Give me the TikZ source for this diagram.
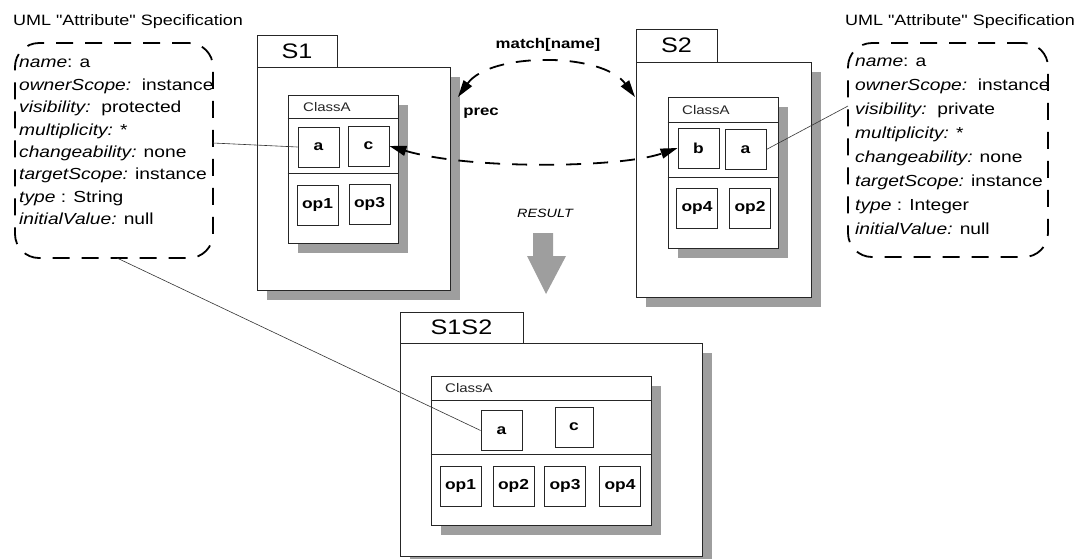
\documentclass[tikz,border=0pt]{standalone}
\usepackage{fontspec}
\setmainfont{Liberation Sans}[FakeStretch=1.2, Ligatures=TeXOff]
\usetikzlibrary{shadows,arrows.meta,calc}
\tikzset{
  pkg/.style={draw=black!85, fill=white, line width=0.8pt, inner sep=0pt},
  shd/.style={general shadow={fill=black!38, shadow xshift=10pt, shadow yshift=-10pt}},
  item/.style={draw=black!85, fill=white, line width=0.8pt, minimum width=41pt, minimum height=40pt, inner sep=0pt, font=\fontsize{14.5}{16}\selectfont\bfseries},
  tablbl/.style={pkg, font=\fontsize{21}{24}\selectfont},
  clsname/.style={anchor=west, inner sep=0pt, font=\fontsize{12.5}{14}\selectfont, text=black!85},
  dbox/.style={draw, line width=1.8pt, dash pattern=on 17pt off 12pt, rounded corners=24pt, inner sep=0pt},
  dlink/.style={line width=1.8pt, dash pattern=on 15pt off 12pt, {Triangle[length=17pt,width=10pt]}-{Triangle[length=17pt,width=10pt]}},
  thinlink/.style={line width=0.6pt, draw=black!80},
  attrtext/.style={anchor=north west, align=left, inner sep=0pt},
  title/.style={inner sep=0pt, font=\fontsize{15}{18}\selectfont},
  lbl/.style={inner sep=0pt, font=\fontsize{14}{16}\selectfont\bfseries},
}
\begin{document}
\begin{tikzpicture}[x=1pt,y=-1pt]
\useasboundingbox (0,0) rectangle (1088,558);

% titles
\node[title] (ltitle) at (128,22) {UML "Attribute" Specification};
\node[title] (rtitle) at (960,22) {UML "Attribute" Specification};

% left attribute box
\node[dbox, minimum width=198pt, minimum height=215pt] (ldash) at (114,150.5) {};
\node[attrtext, font=\fontsize{16}{22.4}\selectfont] (ltext) at (19,59)
 {\textit{name}: a\\
  \textit{ownerScope:}\ \ instance\\
  \textit{visibility:}\ \ protected\\
  \textit{multiplicity:} *\\
  \textit{changeability:} none\\
  \textit{targetScope:} instance\\
  \textit{type} : String\\
  \textit{initialValue:} null};

% right attribute box
\node[dbox, minimum width=200pt, minimum height=214pt] (rdash) at (948,150) {};
\node[attrtext, font=\fontsize{16}{24}\selectfont] (rtext) at (855,58)
 {\textit{name}: a\\
  \textit{ownerScope:}\ \ instance\\
  \textit{visibility:}\ \ private\\
  \textit{multiplicity:} *\\
  \textit{changeability:} none\\
  \textit{targetScope:} instance\\
  \textit{type} : Integer\\
  \textit{initialValue:} null};

% ---------- S1 ----------
\node[tablbl, minimum width=80pt, minimum height=32pt] (s1tab) at (297,51) {S1};
\node[pkg, shd, minimum width=193pt, minimum height=223pt] (s1) at (353.5,178.5) {};
\node[pkg, shd, minimum width=110pt, minimum height=148pt] (s1cls) at (343,169) {};
\draw[line width=0.8pt, black!85] (s1cls.west |- 0,118) -- (s1cls.east |- 0,118);
\draw[line width=0.8pt, black!85] (s1cls.west |- 0,173) -- (s1cls.east |- 0,173);
\node[clsname] (s1cn) at (303,107) {ClassA};
\node[item] (s1a) at (318.5,147) {a};
\node[item] (s1c) at (368.5,146) {c};
\node[item] (s1op1) at (317.5,205.5) {op1};
\node[item] (s1op3) at (369.5,204) {op3};

% ---------- S2 ----------
\node[tablbl, minimum width=81pt, minimum height=33pt] (s2tab) at (676.5,45.5) {S2};
\node[pkg, shd, minimum width=175pt, minimum height=235pt] (s2) at (723.5,179.5) {};
\node[pkg, shd, minimum width=110pt, minimum height=151pt] (s2cls) at (723,172.5) {};
\draw[line width=0.8pt, black!85] (s2cls.west |- 0,122) -- (s2cls.east |- 0,122);
\draw[line width=0.8pt, black!85] (s2cls.west |- 0,177) -- (s2cls.east |- 0,177);
\node[clsname] (s2cn) at (682,110) {ClassA};
\node[item] (s2b) at (698.5,148) {b};
\node[item] (s2a) at (745.5,149.5) {a};
\node[item] (s2op4) at (697,208.5) {op4};
\node[item] (s2op2) at (750,208) {op2};

% ---------- S1S2 ----------
\node[tablbl, minimum width=123pt, minimum height=31pt] (s12tab) at (461.5,327.5) {S1S2};
\node[pkg, shd, minimum width=302pt, minimum height=213pt] (s12) at (551,449.5) {};
\node[pkg, shd, minimum width=220pt, minimum height=149pt] (s12cls) at (541,450.5) {};
\draw[line width=0.8pt, black!85] (s12cls.west |- 0,400) -- (s12cls.east |- 0,400);
\draw[line width=0.8pt, black!85] (s12cls.west |- 0,454) -- (s12cls.east |- 0,454);
\node[clsname] (s12cn) at (445,388) {ClassA};
\node[item] (s12a) at (501.5,430.5) {a};
\node[item, minimum width=38pt] (s12c) at (574,427) {c};
\node[item] (s12op1) at (460.5,486) {op1};
\node[item] (s12op2) at (513.5,486) {op2};
\node[item] (s12op3) at (565,486) {op3};
\node[item] (s12op4) at (620,486) {op4};

% labels
\node[lbl] (match) at (548,45) {match[name]};
\node[lbl] (prec) at (481,113) {prec};
\node[inner sep=0pt, font=\fontsize{12}{14}\selectfont\itshape] (result) at (545,213) {RESULT};

% result arrow
\fill[black!38] (533,233) -- (553,233) -- (553,256) -- (566,256) -- (546,294) -- (527,256) -- (533,256) -- cycle;

% dashed links
\coordinate (arcL) at (458,97);
\coordinate (arcR) at (635,97);
\draw[dlink] (arcL) .. controls (490,52) and (602,52) .. (arcR);
\draw[dlink] (s1c.east) .. controls (470,170) and (620,168) .. (s2b.west);

% thin links
\coordinate (lattach) at (213,143);
\coordinate (rattach) at (848,106);
\coordinate (lbottom) at (117,258);
\draw[thinlink] (s1a.west) -- (lattach);
\draw[thinlink] (s2a.east) -- (rattach);
\draw[thinlink] (lbottom) -- (s12a.west);
\end{tikzpicture}
\end{document}
